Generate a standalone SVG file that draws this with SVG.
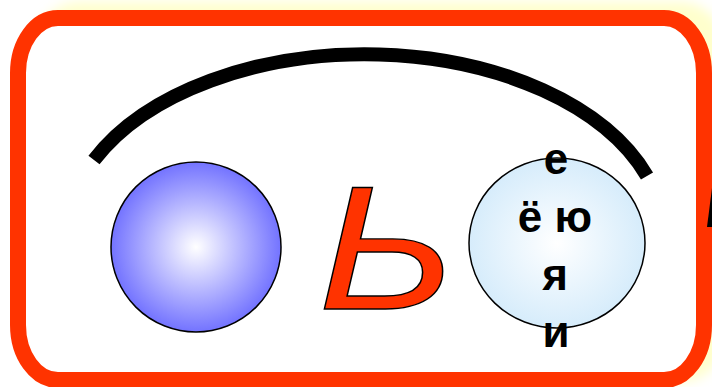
<svg xmlns="http://www.w3.org/2000/svg" width="712" height="387" viewBox="0 0 712 387">
<defs>
<radialGradient id="gPurple" cx="50%" cy="50%" r="50%"><stop offset="0" stop-color="#ffffff"/><stop offset="1" stop-color="#7373ff"/></radialGradient>
<radialGradient id="gBlue" cx="50%" cy="50%" r="50%"><stop offset="0" stop-color="#ffffff"/><stop offset="1" stop-color="#d6ecfb"/></radialGradient>
<filter id="blur" x="-10%" y="-10%" width="120%" height="120%"><feGaussianBlur stdDeviation="6"/></filter>
<style>
.frame{fill:#ffffff;stroke:#ff3300;stroke-width:16}
.ball{stroke:#000;stroke-width:1.5}
.lt{font-family:"Liberation Sans",Arial,sans-serif;font-weight:bold;font-size:44px;fill:#000;text-anchor:middle}
</style>
</defs>
<rect width="712" height="387" fill="#fff"/>
<rect x="30" y="2" width="700" height="380" rx="50" ry="60" fill="#ffffcc" filter="url(#blur)"/>
<rect class="frame" x="18" y="18" width="686" height="362" rx="40" ry="55"/>
<g id="connectors">
<path d="M94,160 A300,185 0 0 1 647,176" fill="none" stroke="#000" stroke-width="14"/>
</g>
<g id="ball-left"><circle class="ball" cx="196" cy="247" r="85" fill="url(#gPurple)"/></g>
<g id="soft-sign"><text transform="translate(318,309) scale(1.2,1)" x="0" y="0" font-family="'Liberation Sans',Arial,sans-serif" font-style="italic" font-size="176" fill="#ff3300" stroke="#000" stroke-width="1.3">Ь</text></g>
<g id="ball-right">
<ellipse class="ball" cx="557" cy="243" rx="88" ry="85" fill="url(#gBlue)"/>
<text class="lt" x="556" y="174">е</text>
<text class="lt" x="555" y="232">ё ю</text>
<text class="lt" x="555" y="290">я</text>
<text class="lt" x="556" y="347">и</text>
</g>
<g id="edge-mark"><polygon points="707,227 712,188 712,227" fill="#000"/></g>
</svg>
